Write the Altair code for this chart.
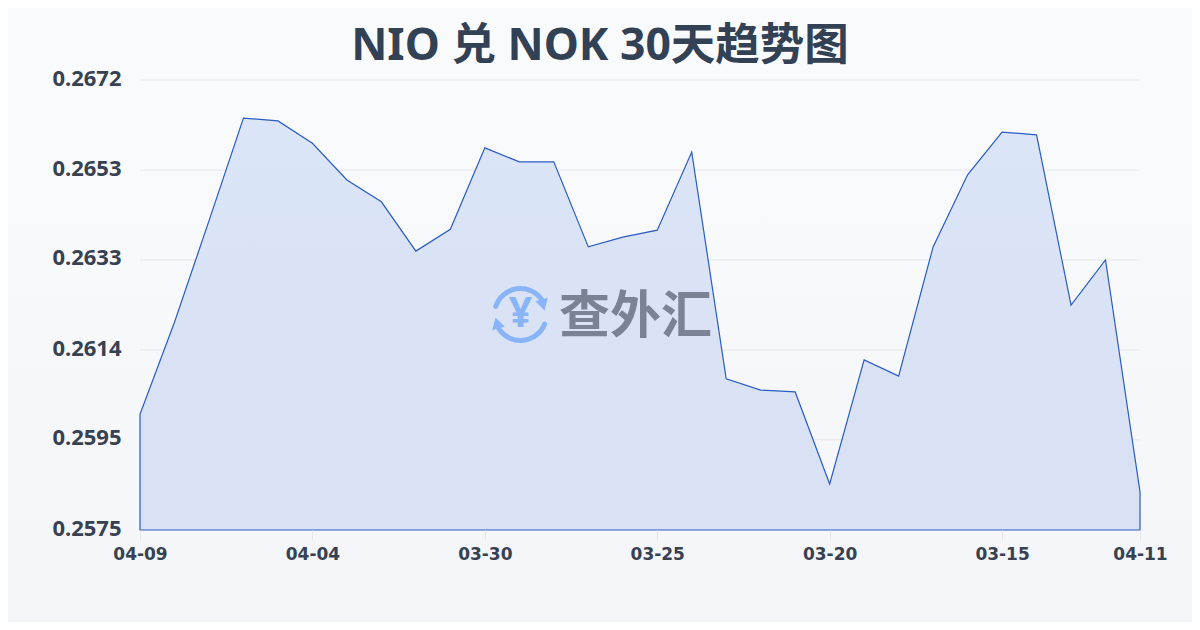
import altair as alt
import pandas as pd

dates = ["04-09","04-08","04-07","04-06","04-05","04-04","04-03","04-02","04-01","03-31",
         "03-30","03-29","03-28","03-27","03-26","03-25","03-24","03-23","03-22","03-21",
         "03-20","03-19","03-18","03-17","03-16","03-15","03-14","03-13","03-12","04-11"]
rates = [0.26001,0.26199,0.26417,0.26638,0.26632,0.26584,0.26505,0.26458,0.26352,0.26399,
         0.26574,0.26544,0.26544,0.26361,0.26382,0.26397,0.26565,0.26077,0.26053,0.26049,
         0.25851,0.26118,0.26083,0.26361,0.26516,0.26608,0.26602,0.26236,0.26333,0.25834]
x_ticks = ["04-09","04-04","03-30","03-25","03-20","03-15","04-11"]
x_tick_pos = [0,5,10,15,20,25,29]
y_ticks = [0.25752,0.25946,0.26139,0.26333,0.26526,0.2672]
title_text = "NIO 兑 NOK 30天趋势图"
brand = "查外汇"

W, H = 1000, 450
FONT = "Noto Sans, Noto Sans CJK SC"
CJK = "Noto Sans CJK SC"
df = pd.DataFrame({"date": dates, "rate": rates, "i": list(range(len(dates)))})
x_scale = alt.Scale(domain=[0, len(dates) - 1], nice=False, zero=False)
y_scale = alt.Scale(domain=[y_ticks[0], y_ticks[-1]], nice=False, zero=False)
one = pd.DataFrame({"a": [0]})

y_axis = alt.Axis(values=y_ticks, format=".4f", labelFontSize=22, labelFontWeight="bold",
                  labelColor="#374151", labelFont="Noto Sans", labelPadding=19, ticks=False,
                  domain=False, grid=False, zindex=1, labelOverlap=False, labelFlush=False,
                  labelOffset=-2)
label_expr = "[" + ",".join(f"'{t}'" for t in x_ticks) + "][indexof(" + str(x_tick_pos) + ",datum.value)]"
x_axis = alt.Axis(values=x_tick_pos, labelAngle=0, labelFontSize=17, labelFontWeight="bold",
                  labelColor="#374151", labelFont="DejaVu Sans", labelPadding=6, tickSize=10,
                  tickColor="#e5e7eb", domain=False, grid=False, zindex=1,
                  labelOverlap=False, labelFlush=False, labelExpr=label_expr)

bg = alt.Chart(one).mark_rect(
    color=alt.Gradient(gradient="linear", x1=0, x2=0, y1=0, y2=1,
                       stops=[alt.GradientStop(color="#f9fafc", offset=0.2),
                              alt.GradientStop(color="#f3f5f8", offset=1)])
).encode(x=alt.value(-132), x2=alt.value(1052), y=alt.value(-72), y2=alt.value(542))

grid = alt.Chart(pd.DataFrame({"t": y_ticks[1:]})).mark_rule(color="#e5e7eb", strokeWidth=1).encode(
    y=alt.Y("t:Q", scale=y_scale, axis=y_axis, title=None)
)

area = alt.Chart(df).mark_area(
    stroke="#2a5cc4", strokeWidth=1.2, interpolate="linear",
    color=alt.Gradient(gradient="linear", x1=0, x2=0, y1=0, y2=1,
                       stops=[alt.GradientStop(color="#d8e3f7", offset=0),
                              alt.GradientStop(color="#d6dff3", offset=1)]),
    fillOpacity=0.92,
).encode(
    x=alt.X("i:Q", scale=x_scale, title=None, axis=x_axis),
    y=alt.Y("rate:Q", scale=y_scale, title=None, axis=y_axis),
    y2=alt.Y2Datum(y_ticks[0]),
)

ring = "#8ab4f8"
def arc(t1, t2):
    return alt.Chart(one).mark_arc(color=ring, radius=28.5, radius2=23.5, theta=t1, theta2=t2,
                                   cornerRadius=2.5).encode(x=alt.value(380.5), y=alt.value(234.5))
arc1 = arc(4.93, 7.35)
arc2 = arc(1.85, 4.2)
tri1 = alt.Chart(one).mark_point(shape="triangle-up", filled=True, color=ring, size=170, opacity=1, angle=165).encode(
    x=alt.value(403), y=alt.value(225))
tri2 = alt.Chart(one).mark_point(shape="triangle-up", filled=True, color=ring, size=170, opacity=1, angle=345).encode(
    x=alt.value(357), y=alt.value(243))
yen = alt.Chart(one).mark_text(text="¥", font="Noto Sans", fontWeight="bold", fontSize=41, color=ring,
                               baseline="middle").encode(x=alt.value(380.5), y=alt.value(235))
word = alt.Chart(one).mark_text(text=brand, font=CJK, fontWeight="bold", fontSize=51, color="#7a8394",
                                align="left", baseline="middle").encode(x=alt.value(419), y=alt.value(238))
title = alt.Chart(one).mark_text(text=title_text, font=FONT, fontWeight="bold", fontSize=44.5, color="#334155",
                                 align="center", baseline="middle").encode(x=alt.value(460), y=alt.value(-33))

chart = alt.layer(bg, grid, area, arc1, arc2, tri1, tri2, yen, word, title).properties(
    width=W, height=H,
    padding={"left": 132, "top": 72, "right": 52, "bottom": 92},
    autosize=alt.AutoSizeParams(type="none"),
).configure_view(stroke=None)

chart.save("out.html", embed_options={"renderer": "svg", "actions": False})
